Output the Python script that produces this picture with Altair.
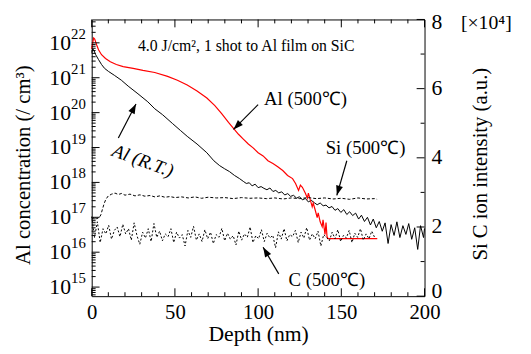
import altair as alt
import pandas as pd

FONT = "Liberation Serif"
W, H = 338, 281
LOG_LO, LOG_HI = 14.74, 22.67

# ---------------- data ----------------
# Al (500C), red, left axis: depth (nm) and log10 concentration
al500_depth = [0.0, 0.6, 1.2, 1.8, 3.0, 4.1, 5.9, 8.3, 11.2, 14.8, 18.9, 24.9, 30.8, 37.9,
               45.6, 51.5, 57.4, 63.3, 69.2, 74.0, 78.1, 82.2, 85.2, 88.2, 91.1, 94.1, 97.0,
               100.0, 103.0, 105.9, 108.9, 111.8, 114.8, 117.7, 120.7, 122.5, 124.3, 125.4,
               126.6, 128.4, 129.6, 130.2, 131.4, 132.5, 133.1, 134.3, 135.5, 136.1, 137.3,
               138.5, 139.0, 140.2, 140.8, 141.4, 142.0, 171.6]
al500_log = [21.83, 22.00, 22.14, 22.11, 21.94, 21.80, 21.66, 21.55, 21.46, 21.38, 21.32, 21.27,
             21.21, 21.15, 21.04, 20.93, 20.79, 20.62, 20.42, 20.20, 19.97, 19.72, 19.55, 19.38,
             19.24, 19.10, 18.99, 18.85, 18.76, 18.62, 18.54, 18.45, 18.34, 18.20, 18.11, 17.97,
             17.77, 17.92, 17.86, 17.69, 17.55, 17.69, 17.49, 17.30, 17.41, 17.21, 16.99, 17.13,
             16.87, 16.73, 16.93, 16.51, 16.85, 16.45, 16.39, 16.39]

# Al (R.T.), black, left axis
alrt_depth = [0.0, 0.6, 1.2, 2.4, 4.1, 5.9, 7.7, 10.1, 13.6, 17.8, 21.9, 27.8, 33.7, 37.9, 42.6,
              48.5, 53.3, 57.4, 63.3, 69.2, 73.4, 76.9, 79.9, 82.8, 85.8, 88.8, 91.1, 92.9,
              94.7, 96.4, 98.2, 100.0, 101.8, 103.5, 105.3, 107.1, 108.9, 110.6, 112.4, 114.2,
              116.0, 117.8, 119.5, 121.3, 123.1, 124.9, 126.6, 128.4, 130.2, 131.9, 133.7,
              135.5, 137.3, 139.1, 140.8, 142.6, 144.4, 146.2, 147.9, 149.7, 151.5, 153.3,
              155.0, 156.8, 158.6, 160.4, 162.1, 163.9, 165.7, 167.5, 169.2, 171.0, 172.8,
              174.6, 176.3, 178.1, 179.9, 181.7, 183.4, 185.2, 187.0, 188.8, 190.5, 192.3,
              194.1, 195.9, 197.6, 199.4, 200.0]
alrt_log = [21.72, 21.83, 21.80, 21.66, 21.52, 21.38, 21.27, 21.18, 21.07, 20.93, 20.76, 20.54,
            20.31, 20.11, 19.94, 19.69, 19.49, 19.32, 19.10, 18.85, 18.62, 18.48, 18.39, 18.31,
            18.20, 18.11, 18.03, 17.97,
            17.99, 17.90, 17.95, 17.85, 17.88, 17.83, 17.79, 17.84, 17.74, 17.77, 17.70, 17.73,
            17.64, 17.68, 17.60, 17.63, 17.55, 17.59, 17.50, 17.54, 17.44, 17.49, 17.42, 17.36,
            17.41, 17.33, 17.35,
            17.27, 17.31, 17.20, 17.25, 17.14, 17.22, 17.08, 17.16, 17.05, 17.12, 16.95, 17.06,
            16.88, 17.00, 16.78, 16.95, 16.70, 16.88, 16.60, 16.84, 16.25, 16.79, 16.48, 16.87,
            16.42, 16.76, 16.51, 16.82, 16.37, 16.70, 16.08, 16.76, 16.42, 16.68]

# Si (500C), dashed, right axis (x10^4 a.u.)
si_depth = [0.0, 1.5, 3.0, 4.5, 5.5, 6.5, 7.5, 8.5, 10, 12, 14, 16, 18, 20, 23, 26, 29, 32, 35,
            38, 41, 44, 47, 50, 54, 58, 62, 66, 70, 75, 80, 85, 90, 95, 100, 105, 110, 115,
            120, 125, 130, 135, 140, 145, 150, 155, 160, 165, 170, 171.5]
si_val = [2.22, 2.28, 2.24, 2.27, 2.35, 2.52, 2.68, 2.80, 2.90, 2.95, 2.98, 2.94, 2.97, 2.92,
          2.95, 2.90, 2.93, 2.89, 2.91, 2.87, 2.90, 2.86, 2.88, 2.85, 2.87, 2.84, 2.87, 2.83,
          2.86, 2.84, 2.85, 2.82, 2.85, 2.83, 2.84, 2.82, 2.84, 2.81, 2.84, 2.82, 2.85, 2.82,
          2.84, 2.81, 2.83, 2.80, 2.84, 2.81, 2.82, 2.80]

# C (500C), dotted, right axis (x10^4 a.u.)
c_depth = [0.0, 1.7, 3.4, 5.1, 6.8, 8.5, 10.2, 11.9, 13.6, 15.3, 17.0, 18.7, 20.4, 22.1, 23.8,
           25.5, 27.2, 28.9, 30.6, 32.3, 34.0, 35.7, 37.4, 39.1, 40.8, 42.5, 44.2, 45.9, 47.6,
           49.3, 51.0, 52.7, 54.4, 56.1, 57.8, 59.5, 61.2, 62.9, 64.6, 66.3, 68.0, 69.7, 71.4,
           73.1, 74.8, 76.5, 78.2, 79.9, 81.6, 83.3, 85.0, 86.7, 88.4, 90.1, 91.8, 93.5, 95.2,
           96.9, 98.6, 100.3, 102.0, 103.7, 105.4, 107.1, 108.8, 110.5, 112.2, 113.9, 115.6,
           117.3, 119.0, 120.7, 122.4, 124.1, 125.8, 127.5, 129.2, 130.9, 132.6, 134.3, 136.0,
           137.7, 139.4, 141.1, 142.8, 144.5, 146.2, 147.9, 149.6, 151.3, 153.0, 154.7, 156.4,
           158.1, 159.8, 161.5, 163.2, 164.9, 166.6, 168.3, 170.0]
c_val = [2.30, 1.70, 2.15, 1.55, 1.95, 1.80, 2.05, 1.65, 1.90, 2.00, 1.72, 2.08, 1.80, 1.95,
         1.62, 2.12, 1.75, 1.50, 1.85, 1.68, 1.95, 1.58, 2.10, 1.70, 1.88, 1.60, 1.80, 1.72,
         1.95, 1.55, 1.85, 1.68, 1.78, 1.45, 1.90, 1.70, 2.02, 1.62, 1.80, 1.58, 1.92, 1.66,
         1.85, 1.52, 1.78, 1.70, 1.96, 1.60, 1.82, 1.65, 1.75, 1.48, 1.88, 1.62, 1.80, 1.70,
         2.00, 1.55, 1.75, 1.66, 1.92, 1.58, 1.82, 1.68, 1.76, 1.40, 1.86, 1.65, 1.95, 1.60,
         1.78, 1.72, 1.90, 1.55, 1.85, 1.68, 1.98, 1.62, 1.80, 1.66, 1.88, 1.45, 1.78, 1.70,
         1.60, 1.85, 1.66, 1.92, 1.58, 1.76, 1.68, 1.90, 1.55, 1.82, 1.70, 1.95, 1.62, 1.80,
         1.66, 1.88, 1.70]

# axis ticks / labels
x_major = [0, 50, 100, 150, 200]
x_minor = [10, 20, 30, 40, 60, 70, 80, 90, 110, 120, 130, 140, 160, 170, 180, 190]
left_exps = [15, 16, 17, 18, 19, 20, 21, 22]
right_major = [0, 2, 4, 6, 8]
right_label_shift = [-5, -1, -1, -1, 3]
right_minor = [1, 3, 5, 7]

# annotation arrows: tail (depth, log10 conc) -> tip
arrow_d0 = [100.0, 16.0, 153.3, 112.4]
arrow_l0 = [20.23, 19.27, 18.62, 15.38]
arrow_d1 = [85.2, 26.6, 147.3, 103.0]
arrow_l1 = [19.52, 20.25, 17.63, 16.14]
arrow_ang = [225, 27, 196, 329]

# ---------------- tables ----------------
df_al500 = pd.DataFrame({"depth": al500_depth, "conc": [10 ** v for v in al500_log]})
df_alrt = pd.DataFrame({"depth": alrt_depth, "conc": [10 ** v for v in alrt_log]})
df_si = pd.DataFrame({"depth": si_depth, "inten": si_val})
df_c = pd.DataFrame({"depth": c_depth, "inten": c_val})
df_arrow = pd.DataFrame({"d0": arrow_d0, "c0": [10 ** v for v in arrow_l0],
                         "d1": arrow_d1, "c1": [10 ** v for v in arrow_l1], "ang": arrow_ang})
df_xmaj = pd.DataFrame({"depth": x_major})
df_xmin = pd.DataFrame({"depth": x_minor})
lmaj = [10.0 ** e for e in left_exps]
lmin = [k * 10.0 ** e for e in range(14, 23) for k in range(2, 10)]
lmin = [v for v in lmin if 10 ** LOG_LO <= v <= 10 ** LOG_HI]
df_lmaj = pd.DataFrame({"conc": lmaj, "base": ["10"] * len(lmaj), "exp": [str(e) for e in left_exps]})
df_lmin = pd.DataFrame({"conc": lmin})
df_rmaj = pd.DataFrame({"inten": right_major})
df_rmin = pd.DataFrame({"inten": right_minor})

# ---------------- scales / encodings ----------------
xscale = alt.Scale(domain=[0, 200], nice=False, zero=False)
ylscale = alt.Scale(type="log", domain=[10 ** LOG_LO, 10 ** LOG_HI], nice=False)
yrscale = alt.Scale(domain=[0, 8], nice=False, zero=False)
xaxis = alt.Axis(values=x_major, ticks=False, tickSize=0, domain=False, grid=False,
                 labelFont=FONT, labelFontSize=21, labelColor="black", labelPadding=6,
                 labelFlush=False, title="Depth (nm)", titleFont=FONT, titleFontSize=22,
                 titleFontWeight="normal", titleColor="black", titlePadding=1, format="d")


def X(f):
    return alt.X(f"{f}:Q", scale=xscale, axis=xaxis)


def YL(f):
    return alt.Y(f"{f}:Q", scale=ylscale, axis=None)


def YR(f):
    return alt.Y(f"{f}:Q", scale=yrscale, axis=None)


def label(text, depth, logc, size=19, align="left", baseline="alphabetic", angle=0, style="normal"):
    d = pd.DataFrame({"t": [text], "depth": [depth], "conc": [10 ** logc]})
    return alt.Chart(d).mark_text(font=FONT, fontSize=size, align=align, baseline=baseline,
                                  angle=angle, fontStyle=style, color="black").encode(
        x=X("depth"), y=YL("conc"), text="t:N")


def ptext(text, px, py, size, align="center", baseline="middle", angle=0):
    d = pd.DataFrame({"t": [text]})
    return alt.Chart(d).mark_text(font=FONT, fontSize=size, align=align, baseline=baseline,
                                  angle=angle, color="black").encode(
        x=alt.value(px), y=alt.value(py), text="t:N")


def rlabel(v, shift):
    d = pd.DataFrame({"inten": [v], "lab": [str(v)]})
    return alt.Chart(d).mark_text(font=FONT, fontSize=22, align="left", baseline="middle", dy=shift,
                                  color="black").encode(y=YR("inten"), x=alt.value(W + 7), text="lab:N")


ARROW = "M0,0L-0.5,1.4L0.5,1.4Z"

left_layers = [
    alt.Chart(df_alrt).mark_line(color="black", strokeWidth=1).encode(x=X("depth"), y=YL("conc")),
    alt.Chart(df_al500).mark_line(color="#ff0000", strokeWidth=1.2).encode(x=X("depth"), y=YL("conc")),
    alt.Chart(df_arrow).mark_rule(color="black", strokeWidth=1.2).encode(
        x=X("d0"), y=YL("c0"), x2=alt.X2("d1:Q"), y2=alt.Y2("c1:Q")),
    alt.Chart(df_arrow).mark_point(shape=ARROW, filled=True, color="black", opacity=1,
                                   size=200, strokeWidth=0).encode(
        x=X("d1"), y=YL("c1"), angle=alt.Angle("ang:Q", scale=None)),
    # x ticks (inward), bottom and top
    alt.Chart(df_xmaj).mark_rule(color="black").encode(x=X("depth"), y=alt.value(H), y2=alt.value(H - 8)),
    alt.Chart(df_xmin).mark_rule(color="black").encode(x=X("depth"), y=alt.value(H), y2=alt.value(H - 4)),
    alt.Chart(df_xmaj).mark_rule(color="black").encode(x=X("depth"), y=alt.value(0), y2=alt.value(8)),
    alt.Chart(df_xmin).mark_rule(color="black").encode(x=X("depth"), y=alt.value(0), y2=alt.value(4)),
    # left ticks
    alt.Chart(df_lmaj).mark_rule(color="black").encode(y=YL("conc"), x=alt.value(0), x2=alt.value(8)),
    alt.Chart(df_lmin).mark_rule(color="black").encode(y=YL("conc"), x=alt.value(0), x2=alt.value(4)),
    # left labels 10^n
    alt.Chart(df_lmaj).mark_text(font=FONT, fontSize=22, align="right", baseline="middle",
                                 color="black").encode(y=YL("conc"), x=alt.value(-21), text="base:N"),
    alt.Chart(df_lmaj).mark_text(font=FONT, fontSize=15, align="left", baseline="middle", dy=-9,
                                 color="black").encode(y=YL("conc"), x=alt.value(-21), text="exp:N"),
    # annotations
    label("4.0 J/cm², 1 shot to Al film on SiC", 27.8, 21.77, size=16),
    label("Al (500℃)", 103.6, 20.23),
    label("Al (R.T.)", 30.8, 18.62, align="center", baseline="middle", angle=20, style="italic"),
    label("Si (500℃)", 140.6, 18.82),
    label("C (500℃)", 118.3, 15.04),
]

right_layers = [
    alt.Chart(df_si).mark_line(color="black", strokeWidth=1, strokeDash=[3, 2]).encode(
        x=X("depth"), y=YR("inten")),
    alt.Chart(df_c).mark_line(color="black", strokeWidth=1, strokeDash=[2, 2]).encode(
        x=X("depth"), y=YR("inten")),
    alt.Chart(df_rmaj).mark_rule(color="black").encode(y=YR("inten"), x=alt.value(W), x2=alt.value(W - 8)),
    alt.Chart(df_rmin).mark_rule(color="black").encode(y=YR("inten"), x=alt.value(W), x2=alt.value(W - 4)),
] + [rlabel(v, s) for v, s in zip(right_major, right_label_shift)] + [
    ptext("[×10⁴]", 375, 10, 20, align="left", baseline="alphabetic"),
    ptext("Si C ion intensity (a.u.)", 395, 147, 21, angle=270),
    ptext("Al concentration (/ cm³)", -69, 148, 21, angle=270),
]

left = alt.layer(*left_layers)
right = alt.layer(*right_layers)

chart = alt.layer(left, right).resolve_scale(y="independent").properties(
    width=W, height=H,
    autosize=alt.AutoSizeParams(type="none"),
    padding={"left": 85, "top": 9, "right": 100, "bottom": 50},
).configure_view(stroke="black", strokeWidth=1)

chart.save("out.html", embed_options={"renderer": "svg", "actions": False})
